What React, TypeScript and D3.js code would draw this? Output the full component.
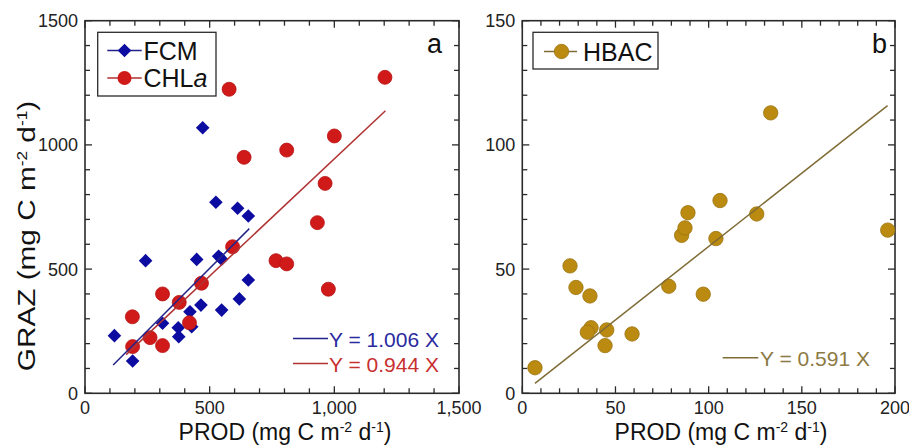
import React from "react";
import * as d3 from "d3";

// ---------- DATA ----------
const fcmX = [118, 191, 243, 311, 374, 376, 421, 428, 448, 465, 472, 525, 536, 548, 548, 612, 619, 655, 655];
const fcmY = [232, 130, 534, 282, 264, 228, 328, 268, 539, 355, 1069, 769, 552, 540, 335, 745, 380, 714, 456];

const chlX = [190, 191, 261, 311, 311, 378, 419, 467, 578, 592, 638, 766, 809, 809, 932, 963, 976, 1000, 1203];
const chlY = [308, 188, 224, 192, 400, 366, 284, 443, 1224, 590, 950, 534, 521, 979, 687, 845, 419, 1036, 1272];

const hbacX = [6.8, 25.6, 28.8, 36.3, 36.9, 34.9, 45.3, 44.4, 58.9, 78.6, 85.5, 87.3, 88.9, 97.1, 103.9, 106.1, 125.8, 133.3, 196.1];
const hbacY = [10.3, 51.3, 42.6, 39.2, 26.4, 24.6, 25.5, 19.2, 23.9, 43.1, 63.6, 66.6, 72.7, 39.9, 62.3, 77.6, 72.2, 112.9, 65.7];

// fits: slope, x-range
const fcmFit = { slope: 1.006, x0: 113, x1: 659 };
const chlFit = { slope: 0.944, x0: 165, x1: 1205 };
const hbacFit = { slope: 0.591, x0: 6.8, x1: 196 };

const aXMajor = [0, 500, 1000, 1500];
const aXLabels = ["0", "500", "1,000", "1,500"];
const aYMajor = [0, 500, 1000, 1500];
const aYLabels = ["0", "500", "1000", "1500"];
const bXMajor = [0, 50, 100, 150, 200];
const bXLabels = ["0", "50", "100", "150", "200"];
const bYMajor = [0, 50, 100, 150];
const bYLabels = ["0", "50", "100", "150"];

// ---------- STYLE ----------
const FONT = "'Liberation Sans', Arial, Helvetica, sans-serif";
const FRAME = "#2a2a2a";
const BLUE = "#0c0ca0";
const BLUE_LINE = "#22228a";
const BLUE_TXT = "#2a2aa0";
const RED = "#d01a1a";
const RED_LINE = "#b03232";
const RED_TXT = "#c83030";
const GOLD = "#bb8a10";
const GOLD_EDGE = "#9a7410";
const GOLD_LINE = "#7f6c36";
const GOLD_TXT = "#8c7a44";

type Panel = {
  x: d3.ScaleLinear<number, number>;
  y: d3.ScaleLinear<number, number>;
};

function Frame({ p, xMajor, xMinorStep, yMajor, yMinorStep, xLabels, yLabels }: {
  p: Panel; xMajor: number[]; xMinorStep: number; yMajor: number[]; yMinorStep: number; xLabels: string[]; yLabels: string[];
}) {
  const [x0, x1] = p.x.range();
  const [yb, yt] = p.y.range();
  const [dx0, dx1] = p.x.domain();
  const [dy0, dy1] = p.y.domain();
  const xMinor = d3.range(dx0, dx1 + 1e-9, xMinorStep).filter((v) => !xMajor.includes(v));
  const yMinor = d3.range(dy0, dy1 + 1e-9, yMinorStep).filter((v) => !yMajor.includes(v));
  const MJ = 7, MN = 5;
  const lines: JSX.Element[] = [];
  const addX = (v: number, len: number, k: string) => {
    const X = p.x(v);
    lines.push(<line key={"xb" + k} x1={X} x2={X} y1={yb} y2={yb - len} />);
    lines.push(<line key={"xt" + k} x1={X} x2={X} y1={yt} y2={yt + len} />);
  };
  const addY = (v: number, len: number, k: string) => {
    const Y = p.y(v);
    lines.push(<line key={"yl" + k} x1={x0} x2={x0 + len} y1={Y} y2={Y} />);
    lines.push(<line key={"yr" + k} x1={x1} x2={x1 - len} y1={Y} y2={Y} />);
  };
  xMajor.forEach((v, i) => addX(v, MJ, "M" + i));
  xMinor.forEach((v, i) => addX(v, MN, "m" + i));
  yMajor.forEach((v, i) => addY(v, MJ, "M" + i));
  yMinor.forEach((v, i) => addY(v, MN, "m" + i));
  return (
    <g>
      <g stroke={FRAME} strokeWidth={1.3}>{lines}</g>
      <rect x={x0} y={yt} width={x1 - x0} height={yb - yt} fill="none" stroke={FRAME} strokeWidth={1.6} />
      <g fontFamily={FONT} fontSize={18} fill="#222">
        {xMajor.map((v, i) => (
          <text key={"xl" + i} x={p.x(v)} y={yb + 20.5} textAnchor="middle">{xLabels[i]}</text>
        ))}
        {yMajor.map((v, i) => (
          <text key={"yl" + i} x={x0 - 7} y={p.y(v) + 6.5} textAnchor="end">{yLabels[i]}</text>
        ))}
      </g>
    </g>
  );
}

function UnitLabel({ name }: { name: string }) {
  return (
    <>
      {name} (mg C m
      <tspan fontSize={14} dy={-8}>-2</tspan>
      <tspan dy={8}> d</tspan>
      <tspan fontSize={14} dy={-8}>-1</tspan>
      <tspan dy={8}>)</tspan>
    </>
  );
}

const diamond = (cx: number, cy: number, h: number) =>
  `M${cx},${cy - h}L${cx + h},${cy}L${cx},${cy + h}L${cx - h},${cy}Z`;

export default function App() {
  const a: Panel = {
    x: d3.scaleLinear().domain([0, 1500]).range([85, 459]),
    y: d3.scaleLinear().domain([0, 1500]).range([393.3, 20.7]),
  };
  const b: Panel = {
    x: d3.scaleLinear().domain([0, 200]).range([522.3, 895]),
    y: d3.scaleLinear().domain([0, 150]).range([393.3, 20.7]),
  };
  const fitLine = (p: Panel, f: { slope: number; x0: number; x1: number }) =>
    d3.line<number>().x((v) => p.x(v)).y((v) => p.y(f.slope * v))([f.x0, f.x1]) || "";

  return (
    <svg width={909} height={445} style={{ position: "absolute", left: 0, top: 0, background: "#fff" }}>
      <rect width={909} height={445} fill="#fff" />
      {/* Panel a */}
      <Frame p={a} xMajor={aXMajor} xMinorStep={100} yMajor={aYMajor} yMinorStep={100} xLabels={aXLabels} yLabels={aYLabels} />
      <g>
        {fcmX.map((v, i) => (
          <path key={"f" + i} d={diamond(a.x(v), a.y(fcmY[i]), 6.8)} fill={BLUE} />
        ))}
        {chlX.map((v, i) => (
          <circle key={"c" + i} cx={a.x(v)} cy={a.y(chlY[i])} r={7} fill={RED} stroke="#b81414" strokeWidth={0.8} />
        ))}
        <path d={fitLine(a, fcmFit)} stroke={BLUE_LINE} strokeWidth={1.5} fill="none" />
        <path d={fitLine(a, chlFit)} stroke={RED_LINE} strokeWidth={1.5} fill="none" />
      </g>
      {/* legend a */}
      <rect x={97.7} y={32.3} width={118.3} height={63.7} fill="#fff" stroke={FRAME} strokeWidth={1.3} />
      <line x1={107.3} x2={141.7} y1={50.5} y2={50.5} stroke={BLUE_LINE} strokeWidth={1.5} />
      <path d={diamond(124.5, 50.5, 6.8)} fill={BLUE} />
      <line x1={107.3} x2={141.7} y1={78} y2={78} stroke={RED_LINE} strokeWidth={1.5} />
      <circle cx={124.5} cy={78} r={7} fill={RED} />
      <g fontFamily={FONT} fontSize={25} fill="#111">
        <text x={143.5} y={59.5}>FCM</text>
        <text x={143.5} y={86.5}>CHL<tspan fontStyle="italic">a</tspan></text>
        <text x={442} y={53} textAnchor="end" fontSize={27}>a</text>
        <text x={887} y={53} textAnchor="end" fontSize={27}>b</text>
      </g>
      {/* fit legend a */}
      <line x1={293} x2={328} y1={338.5} y2={338.5} stroke={BLUE_LINE} strokeWidth={1.5} />
      <text x={329} y={346.5} fontFamily={FONT} fontSize={21} fill={BLUE_TXT}>Y = 1.006 X</text>
      <line x1={293} x2={328} y1={363.5} y2={363.5} stroke={RED_LINE} strokeWidth={1.5} />
      <text x={329} y={371.5} fontFamily={FONT} fontSize={21} fill={RED_TXT}>Y = 0.944 X</text>

      {/* axis titles */}
      <text x={285} y={440} textAnchor="middle" fontFamily={FONT} fontSize={23} fill="#111">
        <UnitLabel name="PROD" />
      </text>
      <text transform="translate(35,236) rotate(-90) scale(1.24,1)" textAnchor="middle" fontFamily={FONT} fontSize={24} fill="#111">
        <UnitLabel name="GRAZ" />
      </text>

      {/* Panel b */}
      <Frame p={b} xMajor={bXMajor} xMinorStep={10} yMajor={bYMajor} yMinorStep={10} xLabels={bXLabels} yLabels={bYLabels} />
      <g>
        {hbacX.map((v, i) => (
          <circle key={"h" + i} cx={b.x(v)} cy={b.y(hbacY[i])} r={7.2} fill={GOLD} stroke={GOLD_EDGE} strokeWidth={0.8} />
        ))}
        <path d={fitLine(b, hbacFit)} stroke={GOLD_LINE} strokeWidth={1.5} fill="none" />
      </g>
      <rect x={533} y={32.3} width={125} height={36.7} fill="#fff" stroke={FRAME} strokeWidth={1.3} />
      <line x1={544} x2={577} y1={51.5} y2={51.5} stroke={GOLD_LINE} strokeWidth={1.5} />
      <circle cx={561.5} cy={51.5} r={7.2} fill={GOLD} stroke={GOLD_EDGE} strokeWidth={0.8} />
      <text x={583} y={60.5} fontFamily={FONT} fontSize={25} fill="#111">HBAC</text>
      <line x1={722.7} x2={758.3} y1={357.7} y2={357.7} stroke={GOLD_LINE} strokeWidth={1.5} />
      <text x={760} y={365.5} fontFamily={FONT} fontSize={21} fill={GOLD_TXT}>Y = 0.591 X</text>
      <text x={721} y={440} textAnchor="middle" fontFamily={FONT} fontSize={23} fill="#111">
        <UnitLabel name="PROD" />
      </text>
    </svg>
  );
}
